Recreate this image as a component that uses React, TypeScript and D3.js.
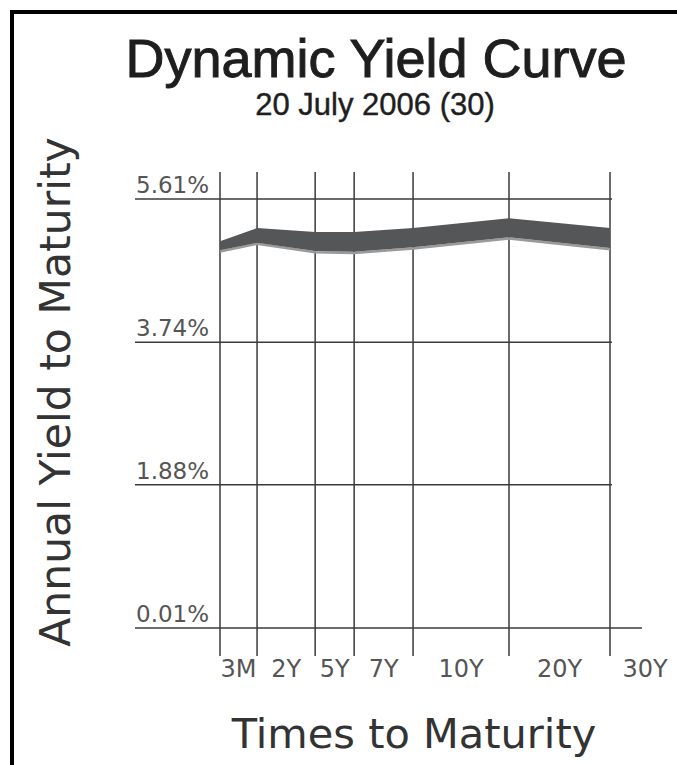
import React from "react";
import * as d3 from "d3";

// Maturity buckets and the layout fraction of each along the maturity axis
const maturities = ["3M", "2Y", "5Y", "7Y", "10Y", "20Y", "30Y"];
const maturityYears = [0.25, 2, 5, 7, 10, 20, 30];
const axisStops = [0, 0.095, 0.244, 0.344, 0.495, 0.741, 1];

// Yield band for the day (upper and lower edge), percent
const yieldHigh = [5.06, 5.23, 5.18, 5.18, 5.23, 5.36, 5.23];
const yieldLow = [4.94, 5.04, 4.93, 4.92, 4.98, 5.11, 4.97];

// Gridline levels on the yield axis
const yieldTicks = [0.01, 1.88, 3.74, 5.61];

const W = 677;
const H = 765;

const plot = { left: 220, right: 610, top: 199, bottom: 628 };

export default function App() {
  const x = d3
    .scaleLinear()
    .domain(maturityYears)
    .range(axisStops.map((f) => plot.left + f * (plot.right - plot.left)));

  const y = d3
    .scaleLinear()
    .domain([yieldTicks[0], yieldTicks[yieldTicks.length - 1]])
    .range([plot.bottom, plot.top]);

  const rows = maturityYears.map((m, i) => ({ m, hi: yieldHigh[i], lo: yieldLow[i] }));

  const band = d3
    .area<any>()
    .x((d) => x(d.m))
    .y0((d) => y(d.lo))
    .y1((d) => y(d.hi))
    .curve(d3.curveLinear);

  const lowerEdge = d3
    .line<any>()
    .x((d) => x(d.m))
    .y((d) => y(d.lo) + 1.2)
    .curve(d3.curveLinear);

  const gridColor = "#3a3a3a";
  const labelFont = "'DejaVu Sans', sans-serif";

  const xs = maturityYears.map((m) => x(m));
  const labelCenters = xs.map((v, i) => (i < xs.length - 1 ? (v + xs[i + 1]) / 2 : v + 35));

  return (
    <svg
      width={W}
      height={H}
      viewBox={`0 0 ${W} ${H}`}
      style={{ position: "absolute", left: 0, top: 0, background: "#fff" }}
    >
      <rect x={0} y={0} width={W} height={H} fill="#fff" />
      {/* outer frame */}
      <rect x={12} y={12} width={W + 40} height={H + 40} fill="none" stroke="#000" strokeWidth={4} />

      <text
        x={376}
        y={77}
        textAnchor="middle"
        fontFamily="'Liberation Sans', Arial, sans-serif"
        fontSize={54}
        fill="#1e1e1e"
        stroke="#1e1e1e"
        strokeWidth={1}
      >
        Dynamic Yield Curve
      </text>
      <text
        x={375}
        y={115}
        textAnchor="middle"
        fontFamily="'Liberation Sans', Arial, sans-serif"
        fontSize={31}
        fill="#1e1e1e"
        stroke="#1e1e1e"
        strokeWidth={0.4}
      >
        20 July 2006 (30)
      </text>

      {/* horizontal gridlines */}
      {yieldTicks.map((t, i) => (
        <g key={t}>
          <line
            x1={135}
            x2={i === 0 ? 642 : 612}
            y1={y(t)}
            y2={y(t)}
            stroke={gridColor}
            strokeWidth={1.5}
          />
          <text
            x={136}
            y={y(t) - 6}
            fontFamily={labelFont}
            fontSize={23}
            fill="#555"
          >
            {t.toFixed(2)}%
          </text>
        </g>
      ))}

      {/* vertical gridlines at each maturity */}
      {maturityYears.map((m) => (
        <line key={m} x1={x(m)} x2={x(m)} y1={172} y2={656} stroke={gridColor} strokeWidth={1.5} />
      ))}

      {/* yield band */}
      <path d={lowerEdge(rows) || ""} fill="none" stroke="#9a9a9a" strokeWidth={2.5} />
      <path d={band(rows) || ""} fill="#555658" />

      {/* maturity labels */}
      {maturities.map((lab, i) => (
        <text
          key={lab}
          x={labelCenters[i]}
          y={677}
          textAnchor="middle"
          fontFamily={labelFont}
          fontSize={24}
          fill="#555"
        >
          {lab}
        </text>
      ))}

      <text
        x={414}
        y={748}
        textAnchor="middle"
        fontFamily={labelFont}
        fontSize={41.5}
        fill="#333"
      >
        Times to Maturity
      </text>
      <text
        transform={`translate(70, 392) rotate(-90)`}
        textAnchor="middle"
        fontFamily={labelFont}
        fontSize={42.5}
        fill="#333"
      >
        Annual Yield to Maturity
      </text>
    </svg>
  );
}
